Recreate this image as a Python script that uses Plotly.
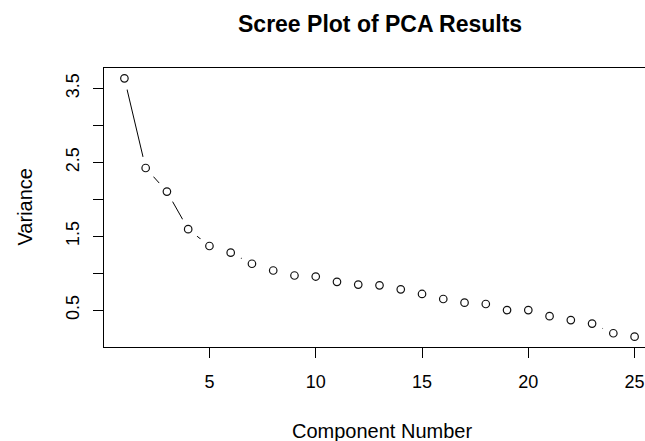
import plotly.graph_objects as go

# Data
components = list(range(1, 26))
variance = [3.637, 2.423, 2.104, 1.595, 1.367, 1.277, 1.127, 1.036, 0.968, 0.954,
            0.882, 0.845, 0.835, 0.781, 0.718, 0.650, 0.600, 0.582, 0.500, 0.500,
            0.418, 0.364, 0.317, 0.186, 0.140]
x_tickvals = [5, 10, 15, 20, 25]
x_ticktext = ["5", "10", "15", "20", "25"]
y_tickvals = [0.5, 1.0, 1.5, 2.0, 2.5, 3.0, 3.5]
y_ticktext = ["0.5", "", "1.5", "", "2.5", "", "3.5"]

title_text = "Scree Plot of PCA Results"
x_title = "Component Number"
y_title = "Variance"

FONT = "Liberation Sans, Arial, sans-serif"

# R-style axis ranges (4% extension)
xr = max(components) - min(components)
x_lo, x_hi = min(components) - 0.04 * xr, max(components) + 0.04 * xr
yr = max(variance) - min(variance)
y_lo, y_hi = min(variance) - 0.04 * yr, max(variance) + 0.04 * yr

W, H = 645, 441
ml, mt, mb = 104, 68, 94
full_plot_w = 551.0          # R plot region width (extends past the image edge)
vis_w = W - ml
x_hi_vis = x_lo + (x_hi - x_lo) * vis_w / full_plot_w
x_mid = (x_lo + x_hi) / 2

fig = go.Figure()
# connecting line
fig.add_trace(go.Scatter(x=components, y=variance, mode="lines",
                         line=dict(color="black", width=1), hoverinfo="skip"))
# white discs to create the type="b" gaps
fig.add_trace(go.Scatter(x=components, y=variance, mode="markers",
                         marker=dict(symbol="circle", size=23, color="white",
                                     line=dict(width=0)), hoverinfo="skip"))
# open circles
fig.add_trace(go.Scatter(x=components, y=variance, mode="markers",
                         marker=dict(symbol="circle-open", size=7.5, color="#111",
                                     line=dict(width=1.2, color="#111"))))

fig.update_layout(
    width=W, height=H,
    margin=dict(l=ml, r=0, t=mt, b=mb, pad=0),
    paper_bgcolor="white", plot_bgcolor="white",
    showlegend=False,
    font=dict(family=FONT, size=18, color="black"),
    xaxis=dict(range=[x_lo, x_hi_vis], tickvals=x_tickvals, ticktext=x_ticktext,
               showgrid=False, zeroline=False, showline=True, mirror=True,
               linecolor="black", linewidth=1, ticks="outside", ticklen=10,
               tickcolor="black", tickwidth=1, tickfont=dict(size=18),
               ticklabelstandoff=8),
    yaxis=dict(range=[y_lo, y_hi], tickvals=y_tickvals, ticktext=y_ticktext,
               showgrid=False, zeroline=False, showline=True, mirror=False,
               linecolor="black", linewidth=1, ticks="outside", ticklen=10,
               tickcolor="black", tickwidth=1, tickangle=-90,
               tickfont=dict(size=18), ticklabelstandoff=7),
    annotations=[
        dict(text="<b>" + title_text + "</b>", x=x_mid, xref="x",
             y=1, yref="paper", yshift=44, xanchor="center", yanchor="middle",
             showarrow=False, font=dict(family=FONT, size=23, color="black")),
        dict(text=x_title, x=x_mid, xref="x", xshift=2,
             y=0, yref="paper", yshift=-84, xanchor="center", yanchor="middle",
             showarrow=False, font=dict(family=FONT, size=20, color="black")),
        dict(text=y_title, x=0, xref="paper", xshift=-80,
             y=0.5, yref="paper", xanchor="center", yanchor="middle",
             textangle=-90, showarrow=False,
             font=dict(family=FONT, size=20, color="black")),
    ],
)

fig.write_html("out.html")
